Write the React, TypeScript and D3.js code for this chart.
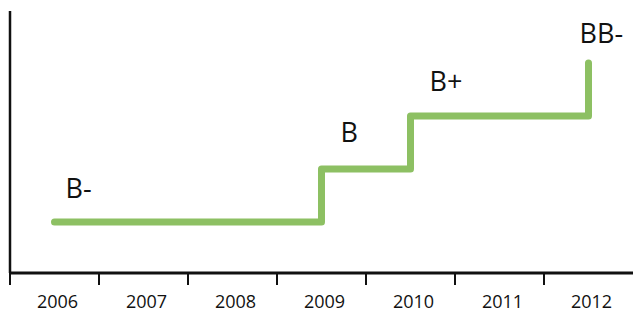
import React from "react";
import * as d3 from "d3";

const years: string[] = ["2006", "2007", "2008", "2009", "2010", "2011", "2012"];
const ratingScale: string[] = ["B-", "B", "B+", "BB-"];
const ratings: string[] = ["B-", "B-", "B-", "B", "B+", "B+", "BB-"];
const labelYears: string[] = ["2006", "2009", "2010", "2012"];
const labelTexts: string[] = ["B-", "B", "B+", "BB-"];

// layout offsets for the rating labels (relative to their data point)
const labelDx = [11, 19, 19, -9];
const labelDy = [-24, -27, -25, -20];

const W = 633;
const H = 312;

export default function App() {
  const x = d3.scaleBand<string>().domain(years).range([10, 633]).padding(0);
  const y = d3.scaleLinear().domain([0, ratingScale.length]).range([275, 63]);
  const level = (r: string) => ratingScale.indexOf(r) + 1;
  const cx = (yr: string) => (x(yr) as number) + x.bandwidth() / 2;

  const pts: [number, number][] = years.map((yr, i) => [cx(yr), y(level(ratings[i]))]);
  const line = d3.line<[number, number]>().curve(d3.curveStepAfter)(pts) as string;

  const axisY = 273;
  const font = "'Open Sans', sans-serif";

  return (
    <svg
      width={W}
      height={H}
      style={{ position: "absolute", left: 0, top: 0, background: "#fff" }}
    >
      <path
        d={line}
        fill="none"
        stroke="#8DC063"
        strokeWidth={7}
        strokeLinecap="round"
        strokeLinejoin="round"
      />
      {/* y axis */}
      <line x1={10} x2={10} y1={11} y2={axisY} stroke="#111" strokeWidth={2.5} />
      {/* x axis */}
      <line x1={10} x2={633} y1={axisY} y2={axisY} stroke="#111" strokeWidth={3} />
      {years.map((yr) => (
        <line
          key={"t" + yr}
          x1={x(yr) as number}
          x2={x(yr) as number}
          y1={axisY}
          y2={285}
          stroke="#111"
          strokeWidth={2}
        />
      ))}
      {years.map((yr) => (
        <text
          key={"l" + yr}
          x={cx(yr) + 3}
          y={308}
          textAnchor="middle"
          fontFamily={font}
          fontSize={18}
          fill="#111"
        >
          {yr}
        </text>
      ))}
      {labelYears.map((yr, i) => (
        <text
          key={"r" + yr}
          x={cx(yr) + labelDx[i]}
          y={y(level(labelTexts[i])) + labelDy[i]}
          textAnchor="start"
          fontFamily={font}
          fontSize={27}
          fill="#111"
        >
          {labelTexts[i]}
        </text>
      ))}
    </svg>
  );
}
